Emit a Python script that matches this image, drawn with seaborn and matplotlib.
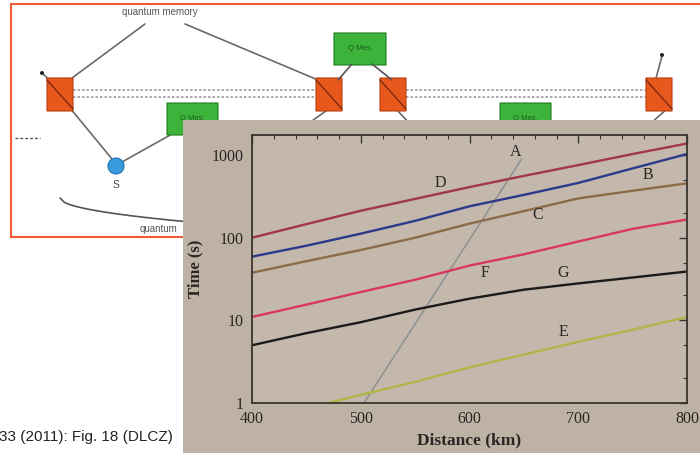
import numpy as np
import pandas as pd
import matplotlib
matplotlib.use("Agg")
import matplotlib.pyplot as plt
import seaborn as sns
from matplotlib.patches import Rectangle, FancyBboxPatch, Ellipse
from matplotlib.lines import Line2D
from matplotlib.ticker import LogLocator, FixedLocator, NullFormatter, MultipleLocator

# ---------------- data ----------------
dist_A = [503, 648]
time_A = [1.0, 900]

dist_grid = [400, 450, 500, 550, 600, 650, 700, 750, 800]
time_D = [100, 146, 212, 295, 410, 560, 757, 1030, 1380]
time_B = [59, 80, 112, 160, 240, 330, 460, 690, 1030]
time_C = [37.7, 52, 71, 100, 148, 210, 299, 370, 455]
time_F = [11, 15.5, 22, 31, 46, 63, 90, 128, 166]
time_G = [5.0, 7.0, 9.5, 13.5, 18.3, 23.5, 28, 33, 39]

dist_E = [470, 505, 550, 600, 650, 700, 750, 800]
time_E = [1.0, 1.3, 1.8, 2.7, 3.85, 5.5, 7.7, 11]

curve_names = ["A", "B", "C", "D", "E", "F", "G"]
curve_colors = ["#8c9294", "#2c3a8c", "#8c6c48", "#a03848",
                "#b4b44a", "#d8385a", "#1c1a1a"]
label_x = [642, 764, 663, 573, 686, 614, 686]
label_y = [1100, 575, 187, 455, 7.2, 37, 37]

x_ticks = [400, 500, 600, 700, 800]
y_ticks = [1, 10, 100, 1000]
y_tick_labels = ["1", "10", "100", "1000"]

caption = "33 (2011): Fig. 18 (DLCZ)"

# ---------------- frame ----------------
rows = []
series = {
    "A": (dist_A, time_A), "B": (dist_grid, time_B), "C": (dist_grid, time_C),
    "D": (dist_grid, time_D), "E": (dist_E, time_E), "F": (dist_grid, time_F),
    "G": (dist_grid, time_G),
}
for name, (xs, ys) in series.items():
    for xv, yv in zip(xs, ys):
        rows.append({"curve": name, "Distance": xv, "Time": yv})
df = pd.DataFrame(rows)

sns.set_theme(style="white")
plt.rcParams["font.family"] = ["Liberation Serif", "DejaVu Serif"]

W, H = 700, 453
fig = plt.figure(figsize=(7.0, 4.53), dpi=100)
fig.patch.set_facecolor("white")


def fx(px):
    return np.asarray(px) / W


def fy(py):
    return 1 - np.asarray(py) / H


# ---- background diagram (decoration) ----
deco_z = 0.2
red = "#f05a32"
fig.add_artist(Line2D([fx(11), fx(700)], [fy(4), fy(4)], color=red, lw=1.5, zorder=deco_z))
fig.add_artist(Line2D([fx(11), fx(11)], [fy(4), fy(237)], color=red, lw=1.5, zorder=deco_z))
fig.add_artist(Line2D([fx(11), fx(190)], [fy(237), fy(237)], color=red, lw=1.5, zorder=deco_z))

fig.text(fx(160), fy(12), "quantum memory", ha="center", va="center", fontsize=7,
         color="#555555", family="Liberation Sans", zorder=deco_z)
fig.text(fx(140), fy(229), "quantum", ha="left", va="center", fontsize=7,
         color="#555555", family="Liberation Sans", zorder=deco_z)

for (x0, y0, x1, y1) in [(145, 24, 72, 78), (185, 24, 318, 80), (70, 108, 112, 159),
                         (122, 162, 172, 134), (330, 108, 305, 126), (395, 108, 412, 126),
                         (668, 108, 650, 124), (42, 73, 62, 92), (662, 56, 655, 82)]:
    fig.add_artist(Line2D([fx(x0), fx(x1)], [fy(y0), fy(y1)], color="#6a6a6a", lw=1.2,
                          zorder=deco_z))
for (x0, x1) in [(73, 316), (406, 646)]:
    for yy in (90, 97):
        fig.add_artist(Line2D([fx(x0), fx(x1)], [fy(yy), fy(yy)], color="#9a9a9a", lw=1.2,
                              ls=(0, (1.5, 1.2)), zorder=deco_z))
fig.add_artist(Line2D([fx(15), fx(40)], [fy(138), fy(138)], color="#555555", lw=1.0,
                      ls=(0, (2, 1.5)), zorder=deco_z))
tt = np.linspace(0, 1, 30)
cx = 60 + 130 * tt
cy = 198 + 24 * np.sqrt(tt)
fig.add_artist(Line2D(fx(cx), fy(cy), color="#555555", lw=1.2, zorder=deco_z))

for (x0, x1) in [(47, 73), (316, 342), (380, 406), (646, 672)]:
    fig.add_artist(FancyBboxPatch((fx(x0), fy(111)), fx(x1 - x0), (111 - 78) / H,
                                  boxstyle="round,pad=0.0", fc="#e8581c", ec="#b84010",
                                  lw=0.8, zorder=deco_z))
    fig.add_artist(Line2D([fx(x0), fx(x1)], [fy(80), fy(109)], color="#7a2a10", lw=1.0,
                          zorder=deco_z))
for (x0, x1, y0, y1) in [(334, 386, 33, 65), (167, 218, 103, 135), (500, 551, 103, 135)]:
    fig.add_artist(FancyBboxPatch((fx(x0), fy(y1)), fx(x1 - x0), (y1 - y0) / H,
                                  boxstyle="round,pad=0.0", fc="#3cb43c", ec="#1e7a1e",
                                  lw=0.8, zorder=deco_z))
    fig.text(fx((x0 + x1) / 2), fy((y0 + y1) / 2), "Q Mes.", ha="center", va="center",
             fontsize=5.5, color="#1e5a1e", family="Liberation Sans", zorder=deco_z)
fig.add_artist(Line2D([fx(338), fx(352)], [fy(80), fy(64)], color="#555555", lw=1.2,
                      zorder=deco_z))
fig.add_artist(Line2D([fx(392), fx(372)], [fy(80), fy(64)], color="#555555", lw=1.2,
                      zorder=deco_z))
for (dx, dy) in [(42, 73), (662, 55)]:
    fig.add_artist(Ellipse((fx(dx), fy(dy)), 4 / W, 4 / H, fc="#222222", ec="none",
                           zorder=deco_z, transform=fig.transFigure))
fig.add_artist(Ellipse((fx(116), fy(166)), 16 / W, 16 / H, fc="#3a9ae0", ec="#2070b0",
                       lw=0.8, zorder=deco_z, transform=fig.transFigure))
fig.text(fx(116), fy(185), "S", ha="center", va="center", fontsize=7.5, color="#444444",
         family="Liberation Sans", zorder=deco_z)

# caption
fig.text(fx(-1), fy(437), caption, ha="left", va="center", fontsize=11, color="#222222",
         family="Liberation Sans")

# ---- photo panel ----
fig.add_artist(Rectangle((fx(183), 0), fx(W - 183), (453 - 120) / H, fc="#beb2a5",
                         ec="none", zorder=0.5, transform=fig.transFigure))

# ---- chart ----
ax = fig.add_axes([fx(252), fy(403), fx(687 - 252), (403 - 135) / H])
ax.set_zorder(1)
ax.set_facecolor("#c3b8ab")

palette = dict(zip(curve_names, curve_colors))
for name in curve_names:
    sub = df[df["curve"] == name]
    sns.lineplot(data=sub, x="Distance", y="Time", color=palette[name],
                 lw=1.1 if name == "A" else 1.7, ax=ax, sort=False, estimator=None,
                 legend=False)

ax.set_yscale("log")
ax.set_xlim(400, 800)
ax.set_ylim(1, 1750)

for name, lx, ly in zip(curve_names, label_x, label_y):
    ax.text(lx, ly, name, ha="center", va="center", fontsize=11.5, color="#2a2624")

ax.xaxis.set_major_locator(FixedLocator(x_ticks))
ax.xaxis.set_minor_locator(MultipleLocator(20))
ax.yaxis.set_major_locator(FixedLocator(y_ticks))
ax.yaxis.set_minor_locator(LogLocator(base=10, subs=(2, 5)))
ax.yaxis.set_minor_formatter(NullFormatter())
ax.set_yticklabels(y_tick_labels)
ax.set_xticklabels([str(v) for v in x_ticks])

ax.tick_params(which="major", direction="in", length=6, width=1.0, color="#3a3430",
               top=True, right=True, labelsize=11.5, labelcolor="#2a2624", pad=6)
ax.tick_params(which="minor", direction="in", length=3, width=0.8, color="#3a3430",
               top=True, right=True)
for sp in ax.spines.values():
    sp.set_color("#3a3430")
    sp.set_linewidth(1.3)

ax.set_xlabel("Distance (km)", fontsize=12.5, fontweight="bold", color="#2a2624", labelpad=4)
ax.set_ylabel("Time (s)", fontsize=12, fontweight="bold", color="#2a2624", labelpad=6)

fig.savefig("out.png", dpi=100, facecolor=fig.get_facecolor())
